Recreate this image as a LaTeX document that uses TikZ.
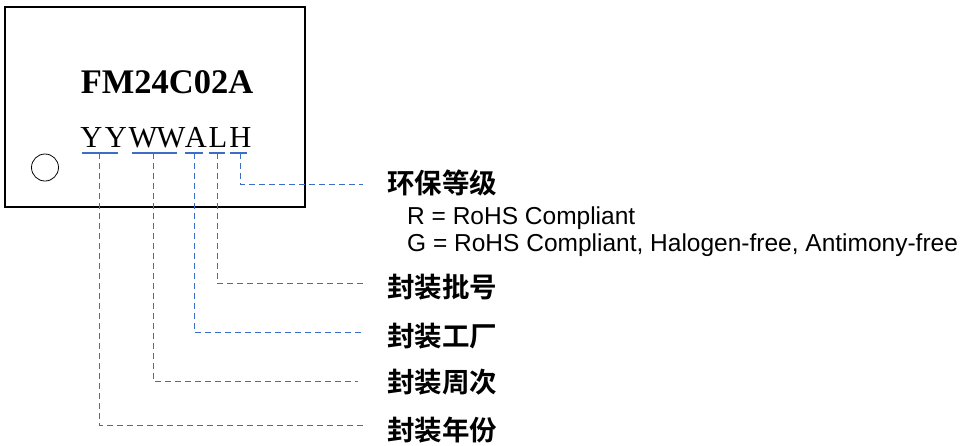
\documentclass[tikz,border=0pt]{standalone}
\usepackage{fontspec}
\setmainfont{Liberation Serif}
\newfontfamily\armfont{Liberation Sans}
\newfontfamily\cjkb{Noto Sans CJK SC Bold}
\definecolor{lnblue}{RGB}{60,110,200}
\begin{document}
\begin{tikzpicture}[x=1pt,y=-1pt,
  chip/.style={draw=black,line width=2pt},
  code/.style={font=\fontsize{30.5}{30.5}\selectfont,inner sep=0pt,anchor=base},
  uline/.style={draw=lnblue,line width=2pt},
  lead/.style={draw=lnblue,line width=1.2pt,dash pattern=on 6pt off 4pt},
  lbl/.style={font=\cjkb\fontsize{27.5}{27.5}\selectfont,inner sep=0pt,anchor=west},
  note/.style={font=\armfont\fontsize{24.5}{24.5}\selectfont,inner sep=0pt,anchor=west}]
\useasboundingbox (0,0) rectangle (961,445);
% chip body
\draw[chip] (5,7) rectangle (305,207);
\node[font=\bfseries\fontsize{34.5}{34.5}\selectfont,inner sep=0pt,anchor=base] (pn) at (167,93) {FM24C02A};
\draw[black,line width=0.8pt] (45,167.5) circle (13.5);
% marking letters
\node[code] (y1) at (91.5,147) {Y};
\node[code] (y2) at (116,147) {Y};
\node[code] (w1) at (143,147) {W};
\node[code] (w2) at (171,147) {W};
\node[code] (a) at (196,147) {A};
\node[code] (l) at (218,147) {L};
\node[code] (h) at (240.5,147) {H};
% underlines
\coordinate (yyL) at (82,153); \coordinate (yyR) at (118,153);
\coordinate (wwL) at (132,153); \coordinate (wwR) at (177,153);
\coordinate (aL) at (185,153); \coordinate (aR) at (203,153);
\coordinate (lL) at (209,153); \coordinate (lR) at (225,153);
\coordinate (hL) at (230,153); \coordinate (hR) at (247,153);
\draw[uline] (yyL) -- (yyR);
\draw[uline] (wwL) -- (wwR);
\draw[uline] (aL) -- (aR);
\draw[uline] (lL) -- (lR);
\draw[uline] (hL) -- (hR);
% tick points
\coordinate (yT) at (99.5,153);
\coordinate (wT) at (153.5,153);
\coordinate (aT) at (194.5,153);
\coordinate (lT) at (217.5,153);
\coordinate (hT) at (240.5,153);
% leader ends
\coordinate (hE) at (363,184.5);
\coordinate (lE) at (363,283.5);
\coordinate (aE) at (363,332.5);
\coordinate (wE) at (358,381.5);
\coordinate (yE) at (363,425.5);
\draw[lead] (hT) |- (hE);
\draw[lead] (lT) |- (lE);
\draw[lead] (aT) |- (aE);
\draw[lead] (wT) |- (wE);
\draw[lead] (yT) |- (yE);
% labels
\node[lbl] (hLbl) at (387,183) {环保等级};
\node[note] (r) at (407,218) {R = RoHS Compliant};
\node[note] (g) at (407,245) {G = RoHS Compliant, Halogen-free, Antimony-free};
\node[lbl] (lLbl) at (387,287) {封装批号};
\node[lbl] (aLbl) at (387,336) {封装工厂};
\node[lbl] (wLbl) at (387,382) {封装周次};
\node[lbl] (yLbl) at (387,430.5) {封装年份};
\end{tikzpicture}
\end{document}
